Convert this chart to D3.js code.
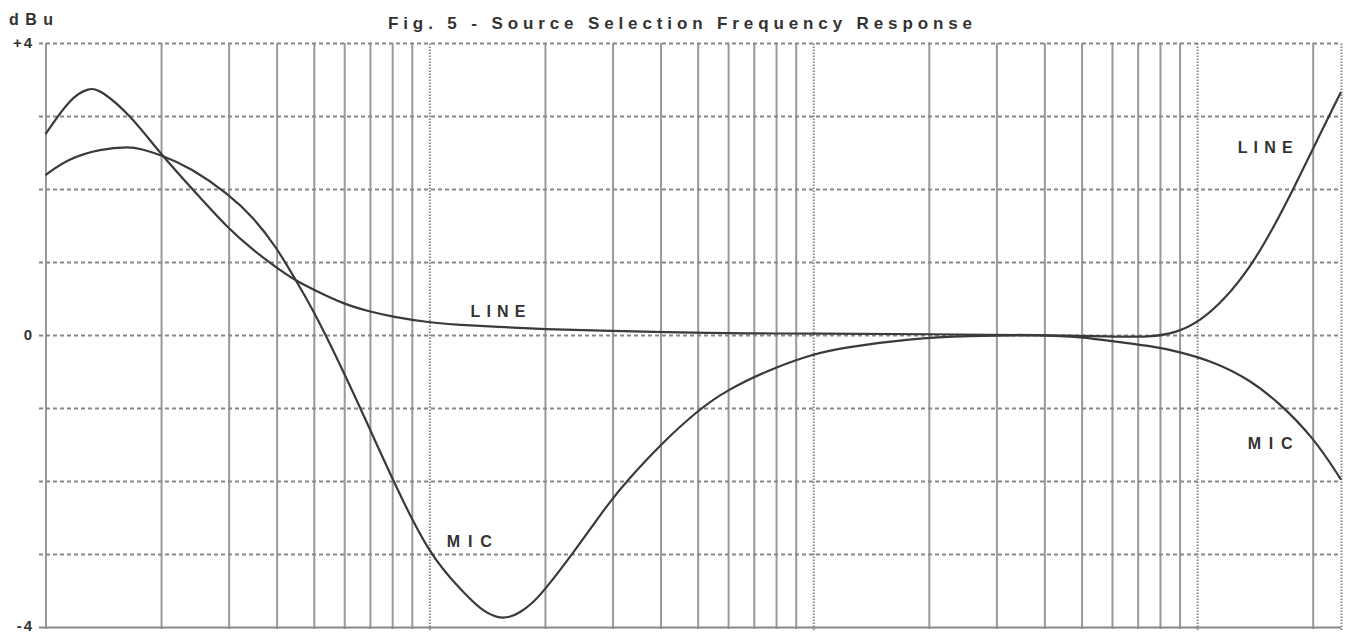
<!DOCTYPE html>
<html>
<head>
<meta charset="utf-8">
<script src="https://cdn.jsdelivr.net/npm/d3@7"></script>
<style>
  body { margin: 0; background: #fff; }
  text { font-family: "Liberation Sans", Arial, sans-serif; font-weight: bold; fill: #333; }
</style>
</head>
<body>
<svg width="1345" height="633"></svg>
<script>
// frequency grid (Hz)
const solidFreqs = [10, 20, 30, 40, 50, 60, 70, 80, 90,
    200, 300, 400, 500, 600, 700, 800, 900,
    2000, 3000, 4000, 5000, 6000, 7000, 8000, 9000, 20000];
const dottedFreqs = [100, 1000, 10000, 23700];

// level grid (dBu)
const dbTicks = [-4, -3, -2, -1, 0, 1, 2, 3, 4];
const dbLabelValues = [4, 0, -4];
const dbLabelTexts = ["+4", "0", "-4"];

// LINE response
const lineFreq = [10, 11.6, 13, 13.9, 16.6, 20, 24.6, 30, 34.8, 40, 45, 50, 60, 70, 80, 100, 120, 150, 200, 280, 400, 700,
    1000, 2000, 4000, 6000, 7500, 8850, 10180, 11710, 13740, 15800, 17810, 20500, 23700];
const lineDb = [2.75, 3.25, 3.39, 3.36, 3.02, 2.47, 1.95, 1.45, 1.16, 0.92, 0.74, 0.62, 0.42, 0.32, 0.25, 0.17, 0.14, 0.11, 0.08, 0.06, 0.04, 0.02,
    0.02, 0.01, 0.0, -0.02, -0.03, 0.03, 0.19, 0.47, 0.92, 1.47, 2.0, 2.66, 3.33];

// MIC response
const micFreq = [10, 11.4, 13.9, 16.6, 17.7, 20, 23.9, 30, 34.8, 40, 45, 50, 60, 70, 80.7, 100, 122.8, 136, 150, 162, 172.6, 185, 198.5,
    236, 296, 327, 400, 498, 596, 788, 1000, 1200, 1800, 2500, 4000, 5000, 5935, 7545, 8850, 11250, 13740, 16130, 20090, 23700];
const micDb = [2.19, 2.41, 2.55, 2.58, 2.55, 2.47, 2.29, 1.93, 1.61, 1.20, 0.74, 0.33, -0.52, -1.29, -2.01, -3.02, -3.53, -3.76, -3.88, -3.87, -3.80, -3.68, -3.51,
    -3.0, -2.27, -2.0, -1.5, -1.04, -0.75, -0.45, -0.26, -0.17, -0.05, -0.01, 0.0, -0.03, -0.08, -0.15, -0.22, -0.38, -0.62, -0.90, -1.40, -1.98];

// curve labels: name, freq, dB where the text starts
const labelNames = ["LINE", "MIC", "LINE", "MIC"];
const labelFreq = [128, 111, 12750, 13540];
const labelDb = [0.25, -2.9, 2.49, -1.56];

let svg = d3.select('svg');
let top_y = 43, bottom_y = 627, left_x = 45.5, right_x = 1341;

let xScale = d3.scaleLog().domain([10, 23700]).range([left_x, right_x]);
let yScale = d3.scaleLinear().domain([-4, 4]).range([bottom_y, top_y]);

// vertical solid grid
svg.append('g')
    .attr('transform', 'translate(0,' + (bottom_y + 2) + ')')
    .call(d3.axisBottom(xScale).tickValues(solidFreqs).tickSize(-(bottom_y + 2 - top_y)).tickFormat(''))
    .call(g => g.select('.domain').remove())
    .selectAll('line')
    .attr('stroke', '#999')
    .attr('stroke-width', 2);

// vertical dotted decade lines
svg.append('g')
    .attr('transform', 'translate(0,' + (bottom_y + 3) + ')')
    .call(d3.axisBottom(xScale).tickValues(dottedFreqs).tickSize(-(bottom_y + 3 - top_y)).tickFormat(''))
    .call(g => g.select('.domain').remove())
    .selectAll('line')
    .attr('stroke', '#888')
    .attr('stroke-width', 2)
    .attr('stroke-dasharray', '1.5,1.5');

// horizontal dashed grid with labels
let yAxis = svg.append('g')
    .attr('transform', 'translate(39,0)')
    .call(d3.axisLeft(yScale).tickValues(dbTicks).tickSize(-(right_x - 39)).tickPadding(5)
        .tickFormat(d => {
            let i = dbLabelValues.indexOf(d);
            return i >= 0 ? dbLabelTexts[i] : '';
        }))
    .call(g => g.select('.domain').remove());
yAxis.selectAll('line')
    .attr('stroke', '#888')
    .attr('stroke-width', 2)
    .attr('stroke-dasharray', d => d == -4 ? null : '4,3');
yAxis.selectAll('text')
    .style('font-size', '15px')
    .style('letter-spacing', '2px')
    .attr('dy', d => d == -4 ? '0.2em' : '0.32em')
    .attr('fill', '#333');

// curves
let line = d3.line()
    .x(d => xScale(d[0]))
    .y(d => yScale(d[1]))
    .curve(d3.curveBasis);

svg.append('path')
    .datum(lineFreq.map((f, i) => [f, lineDb[i]]))
    .attr('d', line)
    .attr('fill', 'none')
    .attr('stroke', '#3a3a3a')
    .attr('stroke-width', 2.2);

svg.append('path')
    .datum(micFreq.map((f, i) => [f, micDb[i]]))
    .attr('d', line)
    .attr('fill', 'none')
    .attr('stroke', '#3a3a3a')
    .attr('stroke-width', 2.2);

// curve labels
svg.selectAll('.curve-label')
    .data(labelNames)
    .enter().append('text')
    .attr('class', 'curve-label')
    .attr('x', (d, i) => xScale(labelFreq[i]))
    .attr('y', (d, i) => yScale(labelDb[i]))
    .attr('textLength', d => d == 'LINE' ? 55 : 45)
    .attr('lengthAdjust', 'spacing')
    .style('font-size', '16px')
    .text(d => d);

// title and unit
svg.append('text')
    .attr('x', 388)
    .attr('y', 29)
    .attr('textLength', 584)
    .attr('lengthAdjust', 'spacing')
    .style('font-size', '17px')
    .text('Fig. 5 - Source Selection Frequency Response');

svg.append('text')
    .attr('x', 9)
    .attr('y', 25)
    .attr('textLength', 44)
    .attr('lengthAdjust', 'spacing')
    .style('font-size', '16px')
    .text('dBu');
</script>
</body>
</html>
